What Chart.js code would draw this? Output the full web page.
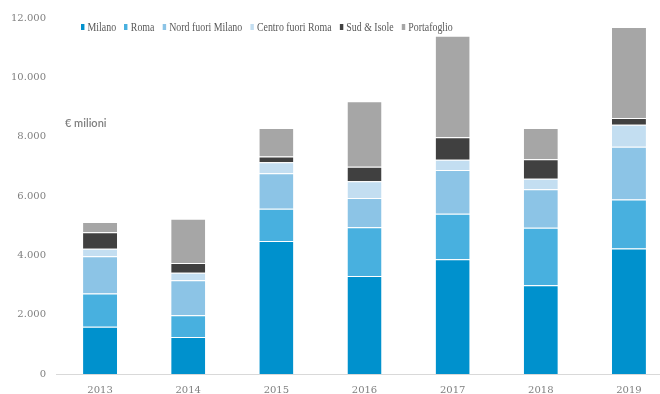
<!DOCTYPE html>
<html>
<head>
<meta charset="utf-8">
<script src="https://cdn.jsdelivr.net/npm/chart.js@4.4.1/dist/chart.umd.min.js"></script>
<style>
  html, body { margin: 0; padding: 0; background: #fff; overflow: hidden; }
  #wrap { position: relative; width: 660px; height: 394px; overflow: hidden; }
  #chart { position: absolute; left: 0; top: 0; }
  #legend {
    position: absolute; left: 81px; top: 21px;
    display: flex; align-items: center; white-space: nowrap;
    font-family: "Liberation Serif", serif; font-size: 11.5px; color: #595959;
    transform: scaleX(0.86); transform-origin: left center;
  }
  #legend .item { display: flex; align-items: center; margin-right: 9.5px; }
  #legend .box { width: 4px; height: 5.5px; margin-right: 3.6px; }
  #unit {
    position: absolute; left: 65px; top: 116px;
    font-family: Lato, sans-serif; font-size: 11px; font-weight: 600; color: #7f7f7f;
  }
</style>
</head>
<body>
<div id="wrap">
  <canvas id="chart" width="673" height="410"></canvas>
  <div id="legend"></div>
  <div id="unit">€ milioni</div>
</div>
<script>
// Investimenti per area (€ milioni)
const years = ['2013', '2014', '2015', '2016', '2017', '2018', '2019'];
const milano      = [1590, 1250, 4480, 3300, 3870, 2990, 4230];
const roma        = [1120,  730, 1090, 1650, 1530, 1940, 1650];
const nordFuoriMi = [1260, 1180, 1200,  980, 1480, 1300, 1780];
const centroFuoriRm = [250, 250,  370,  570,  340,  350,  740];
const sudIsole    = [ 560,  330,  190,  490,  760,  660,  230];
const portafoglio = [ 340, 1490,  960, 2200, 3420, 1050, 3070];
const yTicks = [0, 2000, 4000, 6000, 8000, 10000, 12000];

const seriesNames  = ['Milano', 'Roma', 'Nord fuori Milano', 'Centro fuori Roma', 'Sud & Isole', 'Portafoglio'];
const seriesValues = [milano, roma, nordFuoriMi, centroFuoriRm, sudIsole, portafoglio];
const seriesColors = ['#0091cd', '#48b0df', '#8cc4e6', '#c3def1', '#404040', '#a6a6a6'];

function fmt(v) {
  return String(v).replace(/\B(?=(\d{3})+(?!\d))/g, '.');
}

const datasets = seriesNames.map((name, i) => ({
  label: name,
  data: seriesValues[i],
  backgroundColor: seriesColors[i],
  borderColor: '#ffffff',
  borderWidth: { top: 1, left: 0, right: 0, bottom: 0 },
  borderSkipped: false,
  barPercentage: 0.386,
  categoryPercentage: 1
}));

new Chart(document.getElementById('chart'), {
  type: 'bar',
  data: { labels: years, datasets },
  options: {
    responsive: false,
    animation: false,
    devicePixelRatio: 1,
    layout: { padding: { top: 18, left: 0, right: 0, bottom: 0 } },
    plugins: { legend: { display: false }, tooltip: { enabled: false } },
    scales: {
      x: {
        stacked: true,
        grid: { display: false, drawTicks: false },
        border: { display: true, color: '#d9d9d9', width: 1 },
        ticks: {
          padding: 10,
          color: '#7f7f7f',
          font: { family: 'DejaVu Serif', size: 10 }
        },
        afterFit(scale) { scale.height = 36; }
      },
      y: {
        stacked: true,
        min: 0,
        max: 12000,
        grid: { display: false, drawTicks: false },
        border: { display: false },
        afterBuildTicks(scale) { scale.ticks = yTicks.map(v => ({ value: v })); },
        ticks: {
          padding: 10,
          color: '#7f7f7f',
          font: { family: 'DejaVu Serif', size: 10 },
          callback: v => fmt(v)
        },
        afterFit(scale) { scale.width = 56; }
      }
    }
  }
});

// legend built from the series
const legend = document.getElementById('legend');
seriesNames.forEach((name, i) => {
  const item = document.createElement('div');
  item.className = 'item';
  const box = document.createElement('span');
  box.className = 'box';
  box.style.background = seriesColors[i];
  const txt = document.createElement('span');
  txt.textContent = name;
  item.appendChild(box);
  item.appendChild(txt);
  legend.appendChild(item);
});
</script>
</body>
</html>
